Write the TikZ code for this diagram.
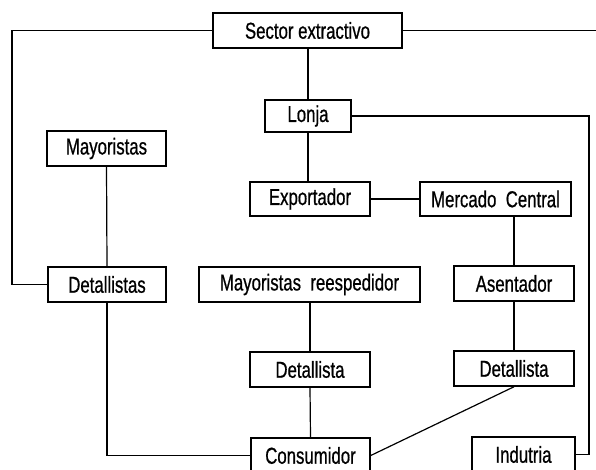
\documentclass[tikz,border=0pt]{standalone}
\usepackage{fontspec}
\setmainfont[FakeStretch=0.73,FakeBold=0.7]{Liberation Sans}
\begin{document}
\begin{tikzpicture}[x=1pt,y=-1pt,
  box/.style={draw, line width=1.5pt, inner sep=0pt, minimum height=35pt,
    font=\fontsize{23}{24}\selectfont},
  conn/.style={line width=1.2pt}]
\useasboundingbox (0,0) rectangle (596,470);
\clip (0,0) rectangle (596,470);
\node[box, minimum width=189pt] (sector) at (307.5,30.5) {Sector extractivo};
\node[box, minimum width=86pt, minimum height=32pt] (lonja) at (308,116) {Lonja};
\node[box, minimum width=119pt] (mayor) at (106.5,148.5) {Mayoristas};
\node[box, minimum width=120pt, minimum height=34pt] (export) at (310,199) {Exportador};
\node[box, minimum width=151pt, minimum height=34pt] (mercado) at (495.5,199) {Mercado\ \ Central};
\node[box, minimum width=118pt] (detall) at (107,284.5) {Detallistas};
\node[box, minimum width=221pt] (reesp) at (309.5,284.5) {Mayoristas\ \ reespedidor};
\node[box, minimum width=120pt] (asent) at (514,283.5) {Asentador};
\node[box, minimum width=120pt] (det1) at (310,369.5) {Detallista};
\node[box, minimum width=120pt] (det2) at (514,368.5) {Detallista};
\node[box, minimum width=119pt] (consum) at (310.5,455.5) {Consumidor};
\node[box, minimum width=103pt] (indus) at (523.5,454.5) {Indutria};
\coordinate (L) at (12,30.5);
\coordinate (R) at (600,30.5);
\coordinate (IR) at (589,116);
\draw[conn] (sector.west) -- (L) |- (detall.west);
\draw[conn] (sector.east) -- (R);
\draw[conn] (lonja.north |- sector.south) -- (lonja.north);
\draw[conn] (lonja.east) -- (IR) |- (indus.east);
\draw[conn] (lonja.south) -- (lonja.south |- export.north);
\draw[conn] (export.east) -- (mercado.west);
\draw[conn] (asent.north |- mercado.south) -- (asent.north);
\draw[conn] (asent.south) -- (det2.north);
\draw[conn] (mayor.south) -- (detall.north);
\draw[conn] (detall.south) |- (consum.west);
\draw[conn] (det1.north |- reesp.south) -- (det1.north);
\draw[conn] (det1.south) -- (consum.north);
\draw[conn] (det2.south) -- (consum.east);
\end{tikzpicture}
\end{document}
